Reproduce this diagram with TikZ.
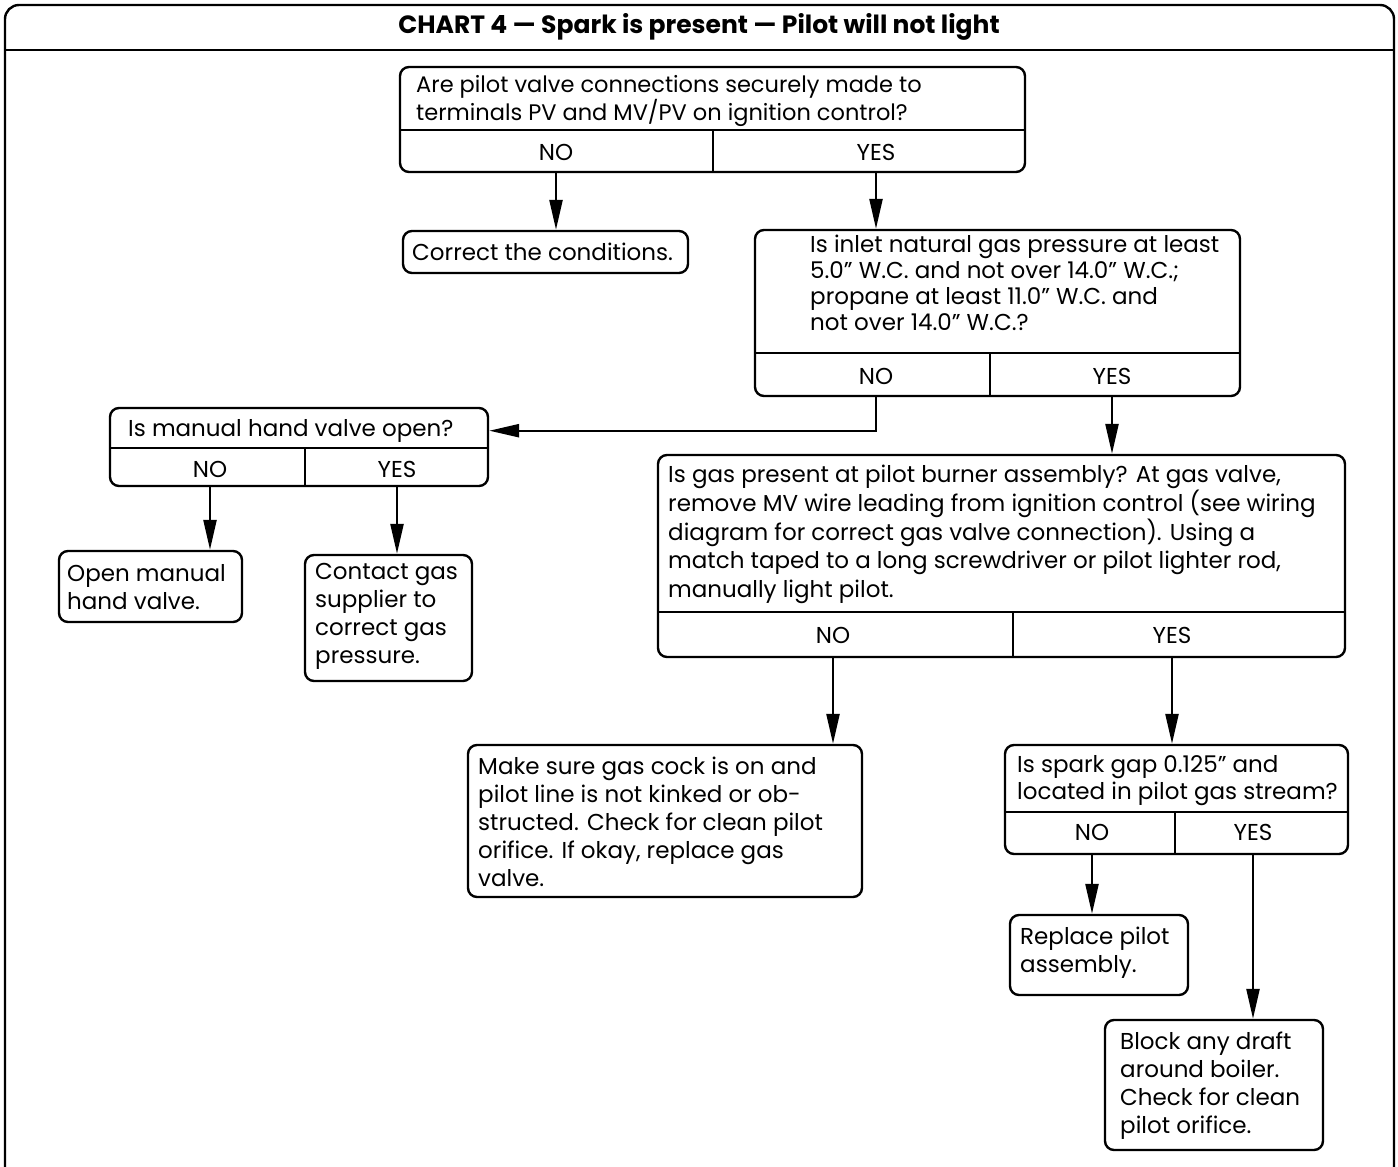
\documentclass[tikz,border=0pt]{standalone}
\usepackage{fontspec}
\setmainfont{Poppins}
\usetikzlibrary{arrows.meta}

\tikzset{
  box/.style={draw,line width=2.4pt,rounded corners=9pt,inner sep=0pt},
  txt/.style={anchor=north west,align=left,inner sep=0pt,font=\fontsize{23}{28}\selectfont},
  ans/.style={inner sep=0pt,font=\fontsize{23}{24}\selectfont},
  rule/.style={line width=2.4pt},
  arr/.style={-{Triangle[length=30pt,width=13pt]},line width=2.4pt}
}

\begin{document}
\begin{tikzpicture}[x=1pt,y=-1pt]
\useasboundingbox (0,0) rectangle (1398,1167);
% frame and title
\draw[line width=2.4pt,rounded corners=14pt] (5,1180) -- (5,5) -- (1394,5) -- (1394,1180);
\draw[rule] (5,50) -- (1394,50);
\node[font=\bfseries\fontsize{25}{28}\selectfont] (title) at (699,27) {CHART 4 — Spark is present — Pilot will not light};

% question 1
\node[box,minimum width=625pt,minimum height=105pt] (q1) at (712.5,119.5) {};
\node[txt,font=\fontsize{22.5}{26}\selectfont] (q1txt) at (416,75) {Are pilot valve connections securely made to\\terminals PV and MV/PV on ignition control?};
\draw[rule] (400,130) -- (1025,130);
\draw[rule] (713,130) -- (713,172);
\node[ans] (q1no) at (556,152) {NO};
\node[ans] (q1yes) at (876,152) {YES};

\node[box,minimum width=285pt,minimum height=42pt] (a1) at (545.5,252) {};
\node[txt] (a1txt) at (412,243) {Correct the conditions.};

% question 2
\node[box,minimum width=485pt,minimum height=166pt] (q2) at (997.5,313) {};
\node[txt,font=\fontsize{23}{26}\selectfont] (q2txt) at (810,235) {Is inlet natural gas pressure at least\\5.0" W.C. and not over 14.0" W.C.;\\propane at least 11.0" W.C. and\\not over 14.0" W.C.?};
\draw[rule] (755,353) -- (1240,353);
\draw[rule] (990,353) -- (990,396);
\node[ans] (q2no) at (876,376) {NO};
\node[ans] (q2yes) at (1112,376) {YES};

% question 3
\node[box,minimum width=378pt,minimum height=78pt] (q3) at (299,447) {};
\node[txt] (q3txt) at (128,419) {Is manual hand valve open?};
\draw[rule] (110,448) -- (488,448);
\draw[rule] (305,448) -- (305,486);
\node[ans] (q3no) at (210,469) {NO};
\node[ans] (q3yes) at (397,469) {YES};

\node[box,minimum width=183pt,minimum height=71pt] (a2) at (150.5,586.5) {};
\node[txt] (a2txt) at (67,564) {Open manual\\hand valve.};
\node[box,minimum width=167pt,minimum height=126pt] (a3) at (388.5,618) {};
\node[txt] (a3txt) at (315,563) {Contact gas\\supplier to\\correct gas\\pressure.};

% question 4
\node[box,minimum width=687pt,minimum height=202pt] (q4) at (1001.5,556) {};
\node[txt,font=\fontsize{23}{28.7}\selectfont] (q4txt) at (668,465) {Is gas present at pilot burner assembly? At gas valve,\\remove MV wire leading from ignition control (see wiring\\diagram for correct gas valve connection). Using a\\match taped to a long screwdriver or pilot lighter rod,\\manually light pilot.};
\draw[rule] (658,612) -- (1345,612);
\draw[rule] (1013,612) -- (1013,657);
\node[ans] (q4no) at (833,635) {NO};
\node[ans] (q4yes) at (1172,635) {YES};

\node[box,minimum width=394pt,minimum height=152pt] (a4) at (665,821) {};
\node[txt] (a4txt) at (478,757) {Make sure gas cock is on and\\pilot line is not kinked or ob-\\structed. Check for clean pilot\\orifice. If okay, replace gas\\valve.};

% question 5
\node[box,minimum width=343pt,minimum height=109pt] (q5) at (1176.5,799.5) {};
\node[txt,font=\fontsize{23}{27}\selectfont] (q5txt) at (1017,755) {Is spark gap 0.125" and\\located in pilot gas stream?};
\draw[rule] (1005,812) -- (1348,812);
\draw[rule] (1175,812) -- (1175,854);
\node[ans] (q5no) at (1092,832) {NO};
\node[ans] (q5yes) at (1253,832) {YES};

\node[box,minimum width=178pt,minimum height=80pt] (a5) at (1099,955) {};
\node[txt] (a5txt) at (1020,927) {Replace pilot\\assembly.};
\node[box,minimum width=218pt,minimum height=130pt] (a6) at (1214,1085) {};
\node[txt] (a6txt) at (1120,1032) {Block any draft\\around boiler.\\Check for clean\\pilot orifice.};

% connectors
\draw[arr] (q1no |- q1.south) -- (q1no |- a1.north);
\draw[arr] (q1yes |- q1.south) -- (q1yes |- q2.north);
\draw[arr] (q2no |- q2.south) |- (q3.east |- q3txt);
\draw[arr] (q2yes |- q2.south) -- (q2yes |- q4.north);
\draw[arr] (q3no |- q3.south) -- (q3no |- a2.north);
\draw[arr] (q3yes |- q3.south) -- (q3yes |- a3.north);
\draw[arr] (q4no |- q4.south) -- (q4no |- a4.north);
\draw[arr] (q4yes |- q4.south) -- (q4yes |- q5.north);
\draw[arr] (q5no |- q5.south) -- (q5no |- a5.north);
\draw[arr] (q5yes |- q5.south) -- (q5yes |- a6.north);
\end{tikzpicture}
\end{document}
